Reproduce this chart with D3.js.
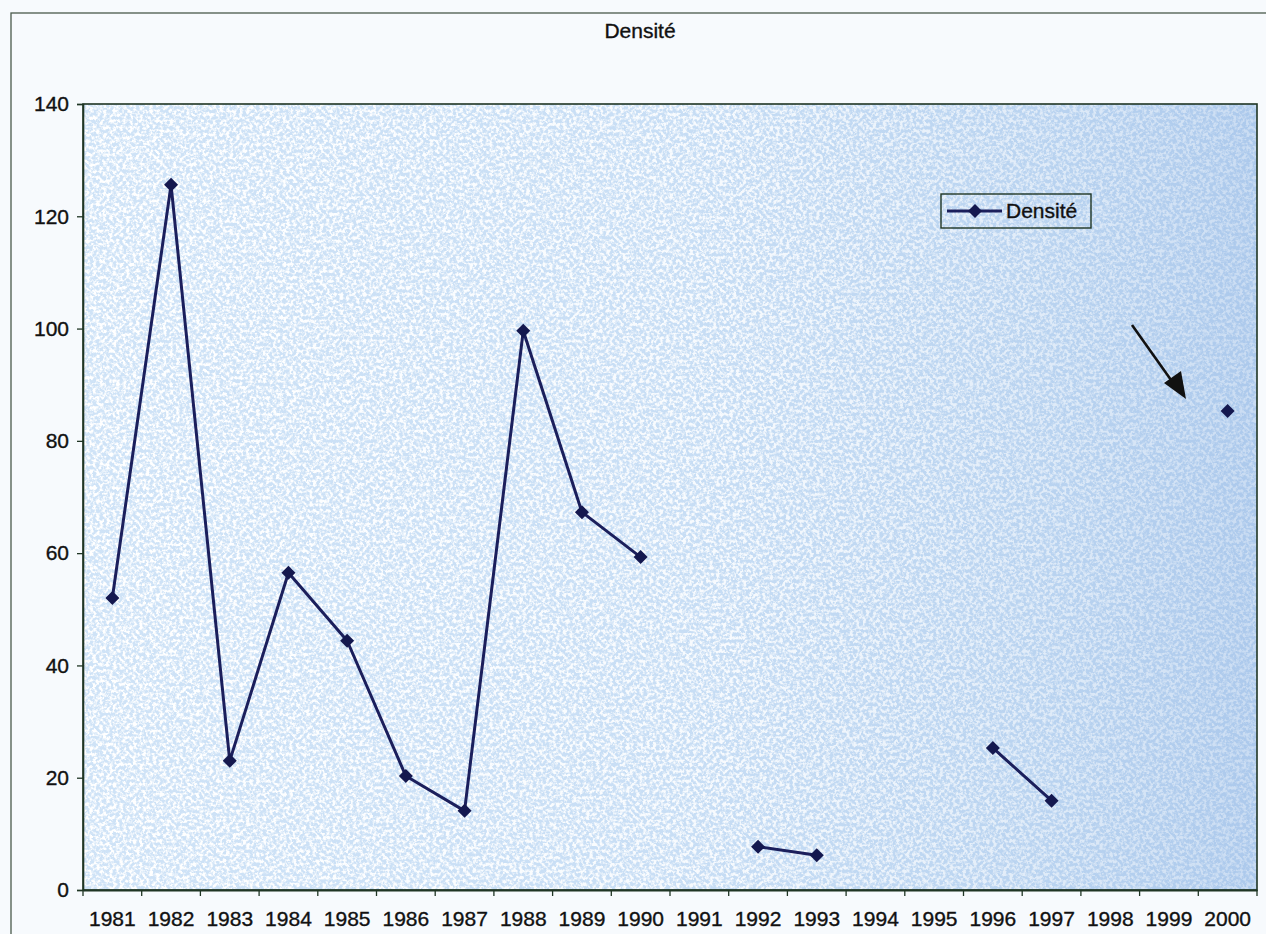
<!DOCTYPE html>
<html>
<head>
<meta charset="utf-8">
<script src="https://cdn.jsdelivr.net/npm/d3@7"></script>
<style>
  html, body { margin: 0; padding: 0; background: #f7fafd; }
  svg { display: block; font-family: "Liberation Sans", Arial, sans-serif; }
  .lbl { stroke: #111; stroke-width: 0.35px; }
</style>
</head>
<body>
<svg id="chart" width="1266" height="934"></svg>
<script>
// Yearly density series; gaps are years without a measurement
const years = ["1981","1982","1983","1984","1985","1986","1987","1988","1989","1990",
               "1991","1992","1993","1994","1995","1996","1997","1998","1999","2000"];
const densite = [52.0, 125.6, 23.0, 56.5, 44.4, 20.3, 14.1, 99.6, 67.3, 59.3,
                 null, 7.7, 6.2, null, null, 25.3, 15.9, null, null, 85.3];
const yTicks = [0, 20, 40, 60, 80, 100, 120, 140];
const chartTitle = "Densité";
const seriesName = "Densité";

const svg = d3.select("#chart");
const margin = { left: 83, top: 104, right: 9, bottom: 44 };
const W = 1266, H = 934;
const pw = W - margin.left - margin.right;
const ph = H - margin.top - margin.bottom;
const axisColor = "#1f3524";
const font = "Liberation Sans, Arial, sans-serif";
const fs = 21;

const x = d3.scaleBand().domain(years).range([margin.left, margin.left + pw]);
const y = d3.scaleLinear().domain([0, 140]).range([margin.top + ph, margin.top]);

const defs = svg.append("defs");
const grad = defs.append("linearGradient").attr("id", "bg").attr("x1", 0).attr("x2", 1).attr("y1", 0).attr("y2", 0);
grad.append("stop").attr("offset", "0").attr("stop-color", "#cfe3f7");
grad.append("stop").attr("offset", "0.5").attr("stop-color", "#c8def5");
grad.append("stop").attr("offset", "0.82").attr("stop-color", "#b9d3f0");
grad.append("stop").attr("offset", "1").attr("stop-color", "#acc9ec");

// mottled paper grain, strongest on the left
const grain = defs.append("filter").attr("id", "grain").attr("x", 0).attr("y", 0).attr("width", 1).attr("height", 1);
grain.append("feTurbulence").attr("type", "fractalNoise").attr("baseFrequency", 0.3).attr("numOctaves", 3).attr("seed", 7).attr("result", "n");
grain.append("feColorMatrix").attr("in", "n").attr("type", "matrix")
  .attr("values", "0 0 0 0 1  0 0 0 0 1  0 0 0 0 1  4 0 0 0 -1.6").attr("result", "w");
grain.append("feComposite").attr("in", "w").attr("in2", "SourceGraphic").attr("operator", "in");

const fade = defs.append("linearGradient").attr("id", "fade").attr("x1", 0).attr("x2", 1).attr("y1", 0).attr("y2", 0);
fade.append("stop").attr("offset", "0").attr("stop-color", "#fff").attr("stop-opacity", 1);
fade.append("stop").attr("offset", "0.55").attr("stop-color", "#fff").attr("stop-opacity", 0.85);
fade.append("stop").attr("offset", "1").attr("stop-color", "#fff").attr("stop-opacity", 0.35);
defs.append("mask").attr("id", "fadeMask").attr("maskUnits", "userSpaceOnUse")
  .append("rect").attr("x", margin.left).attr("y", margin.top).attr("width", pw).attr("height", ph).attr("fill", "url(#fade)");

// outer chart frame
svg.append("rect").attr("x", 11).attr("y", 13).attr("width", W + 10).attr("height", H + 10)
  .attr("fill", "none").attr("stroke", "#4a5a4c").attr("stroke-width", 1.3);

svg.append("text").attr("class", "lbl").attr("x", 640).attr("y", 38).attr("text-anchor", "middle")
  .attr("font-size", fs).attr("fill", "#111").attr("font-family", font).text(chartTitle);

// plot area
svg.append("rect").attr("x", margin.left).attr("y", margin.top).attr("width", pw).attr("height", ph)
  .attr("fill", "url(#bg)");
svg.append("rect").attr("x", margin.left).attr("y", margin.top).attr("width", pw).attr("height", ph)
  .attr("fill", "#ffffff").attr("filter", "url(#grain)").attr("mask", "url(#fadeMask)");
svg.append("rect").attr("x", margin.left).attr("y", margin.top).attr("width", pw).attr("height", ph)
  .attr("fill", "none").attr("stroke", axisColor).attr("stroke-width", 1.6);

// axes
const yAxis = d3.axisLeft(y).tickValues(yTicks).tickSize(6).tickPadding(8);
const gy = svg.append("g").attr("transform", `translate(${margin.left},0)`).call(yAxis);
gy.select(".domain").attr("stroke", axisColor).attr("stroke-width", 1.6);
gy.selectAll(".tick line").attr("stroke", axisColor).attr("stroke-width", 1.3);
gy.selectAll(".tick text").attr("class", "lbl").attr("font-size", fs).attr("fill", "#111").attr("font-family", font);

const xAxis = d3.axisBottom(x).tickSize(0).tickPadding(21);
const gx = svg.append("g").attr("transform", `translate(0,${margin.top + ph})`).call(xAxis);
gx.select(".domain").attr("stroke", axisColor).attr("stroke-width", 1.8);
gx.selectAll(".tick text").attr("class", "lbl").attr("font-size", fs).attr("fill", "#111").attr("font-family", font);
// tick marks between categories
const bounds = years.map(d => x(d)).concat([x(years[years.length - 1]) + x.bandwidth()]);
svg.append("g").selectAll("line").data(bounds).join("line")
  .attr("x1", d => d).attr("x2", d => d)
  .attr("y1", margin.top + ph).attr("y2", margin.top + ph + 6)
  .attr("stroke", axisColor).attr("stroke-width", 1.3);

// series line with gaps
const pts = years.map((yr, i) => ({ yr, v: densite[i] }));
const line = d3.line().defined(d => d.v != null)
  .x(d => x(d.yr) + x.bandwidth() / 2).y(d => y(d.v));
svg.append("path").datum(pts).attr("d", line)
  .attr("fill", "none").attr("stroke", "#1b1f5c").attr("stroke-width", 3).attr("stroke-linejoin", "round");

const diamond = d3.symbol().type(d3.symbolDiamond2).size(125);
svg.append("g").selectAll("path").data(pts.filter(d => d.v != null)).join("path")
  .attr("d", diamond)
  .attr("transform", d => `translate(${x(d.yr) + x.bandwidth() / 2},${y(d.v)})`)
  .attr("fill", "#14184f");

// legend
const lg = svg.append("g");
lg.append("rect").attr("x", 941).attr("y", 194).attr("width", 150).attr("height", 34)
  .attr("fill", "none").attr("stroke", axisColor).attr("stroke-width", 1.4);
lg.append("line").attr("x1", 947).attr("x2", 1002).attr("y1", 211).attr("y2", 211)
  .attr("stroke", "#1b1f5c").attr("stroke-width", 3);
lg.append("path").attr("d", diamond).attr("transform", "translate(975,211)").attr("fill", "#14184f");
lg.append("text").attr("class", "lbl").attr("x", 1006).attr("y", 218).attr("font-size", fs).attr("fill", "#111")
  .attr("font-family", font).text(seriesName);

// annotation arrow pointing at the 2000 value
svg.append("line").attr("x1", 1132).attr("y1", 325).attr("x2", 1176).attr("y2", 387)
  .attr("stroke", "#111").attr("stroke-width", 2.6);
svg.append("path").attr("d", "M1186,399 L1164,383 L1181,371 Z").attr("fill", "#111");
</script>
</body>
</html>
